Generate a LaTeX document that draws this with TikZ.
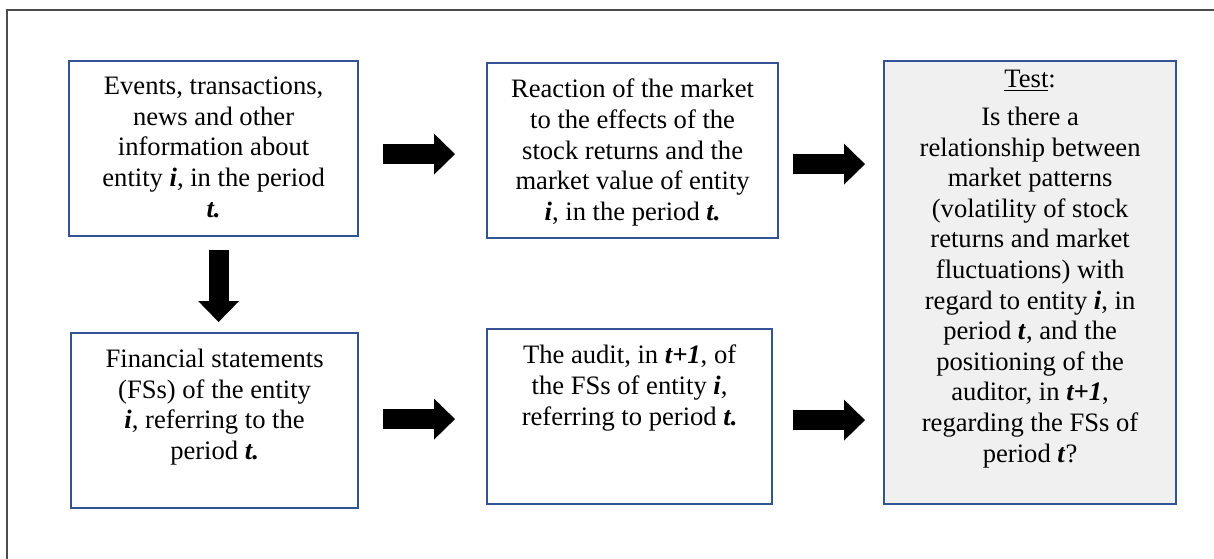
\documentclass[tikz,border=0pt]{standalone}
\usepackage{fontspec}
\setmainfont{Liberation Serif}
\usetikzlibrary{arrows.meta}
\definecolor{boxblue}{RGB}{50,84,148}
\definecolor{testgray}{RGB}{240,240,240}
\newcommand{\emvar}[1]{\textbf{\textit{#1}}}
\newcommand{\boxtxt}[3]{\begin{minipage}[c][#2][t]{#1}\centering
  \vspace*{8pt}#3\end{minipage}}

\begin{document}
\begin{tikzpicture}[
  x=0.5pt, y=-0.5pt,
  font=\fontsize{13.3pt}{15.3pt}\selectfont,
  box/.style={draw=boxblue, line width=1.1pt, inner sep=0pt,
              anchor=north west, fill=white},
  graybox/.style={box, fill=testgray},
  blk/.style={-{Triangle[length=10.5pt, width=20.5pt, line width=0pt]},
              line width=10pt},
  frame/.style={draw=black!70, line width=0.8pt}
]
\useasboundingbox (0,0) rectangle (1214,558);
\draw[frame] (7,562) |- (1218,10);
\node[box] (events) at (68,60) {\boxtxt{144.5pt}{87.5pt}{Events, transactions,\\
  news and other\\ information about\\ entity \emvar{i}, in the period\\ \emvar{t.}}};
\node[box] (reaction) at (486,62) {\boxtxt{145.5pt}{87.5pt}{Reaction of the market\\
  to the effects of the\\ stock returns and the\\ market value of entity\\
  \emvar{i}, in the period \emvar{t.}}};
\node[box] (fs) at (70,332) {\boxtxt{143.5pt}{87.5pt}{Financial statements\\
  (FSs) of the entity\\ \emvar{i}, referring to the\\ period \emvar{t.}}};
\node[box] (audit) at (486,328) {\boxtxt{142.5pt}{87.5pt}{The audit, in \emvar{t+1}, of\\
  the FSs of entity \emvar{i},\\ referring to period \emvar{t.}}};
\node[graybox] (test) at (883,60) {\begin{minipage}[c][221.5pt][t]{146pt}\centering
  \vspace*{4.5pt}\underline{Test}:\par\vspace{3.7pt}
  Is there a\\ relationship between\\ market patterns\\ (volatility of stock\\
  returns and market\\ fluctuations) with\\ regard to entity \emvar{i}, in\\
  period \emvar{t}, and the\\ positioning of the\\ auditor, in \emvar{t+1},\\
  regarding the FSs of\\ period \emvar{t}?\end{minipage}};
\draw[blk] ([xshift=12pt, yshift=-2.75pt]events.east)
  -- ([xshift=-15.5pt, yshift=-1.75pt]reaction.west);
\draw[blk] ([xshift=7pt, yshift=-6.75pt]reaction.east)
  -- ([xshift=-9pt, yshift=59.25pt]test.west);
\draw[blk] ([xshift=2.5pt, yshift=-6.5pt]events.south)
  -- ([xshift=2pt, yshift=5pt]fs.north);
\draw[blk] ([xshift=12pt, yshift=0.75pt]fs.east)
  -- ([xshift=-15.5pt, yshift=-1.25pt]audit.west);
\draw[blk] ([xshift=10pt, yshift=-1.75pt]audit.east)
  -- ([xshift=-9pt, yshift=-68.75pt]test.west);
\end{tikzpicture}
\end{document}
